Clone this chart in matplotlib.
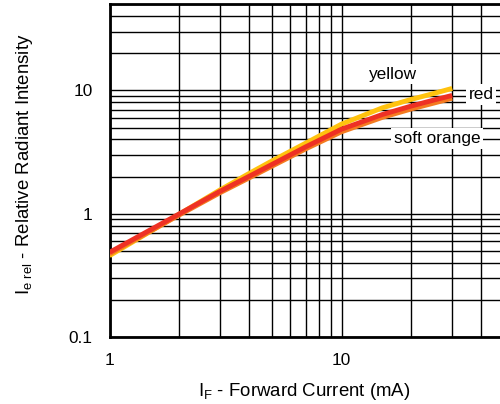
import matplotlib
matplotlib.use("Agg")
from matplotlib import pyplot as plt
from matplotlib.ticker import LogLocator, FixedLocator, NullFormatter

plt.rcParams['font.family'] = ['Liberation Sans', 'DejaVu Sans']

# forward current (mA) and relative radiant intensity per colour
current = [1, 1.5, 2, 3, 4, 5, 7, 10, 15, 20, 25, 30]
yellow = [0.455, 0.716, 0.99, 1.56, 2.12, 2.67, 3.73, 5.33, 7.23, 8.47, 9.46, 10.4]
red = [0.484, 0.738, 0.995, 1.52, 2.01, 2.50, 3.48, 4.85, 6.38, 7.48, 8.36, 9.12]
soft_orange = [0.47, 0.72, 0.975, 1.48, 1.95, 2.42, 3.35, 4.62, 6.05, 7.08, 7.9, 8.65]

x_ticks = [1, 10]
x_tick_labels = ["1", "10"]
y_ticks = [0.1, 1, 10]
y_tick_labels = ["0.1", "1", "10"]

fs = 12.4
label_fs = 13.4

fig = plt.figure(figsize=(5, 4.04), dpi=100)
ax = fig.add_axes([0.219, 0.1666, 0.928, 0.8224])

ax.set_xscale('log')
ax.set_yscale('log')
ax.set_xlim(1, 100)
ax.set_ylim(0.1, 50)

ax.plot(current, yellow, color='#FFC20E', lw=3.5, solid_capstyle='butt', zorder=3)
ax.plot(current, soft_orange, color='#F47B20', lw=3.5, solid_capstyle='butt', zorder=4)
ax.plot(current, red, color='#EE3124', lw=3.5, solid_capstyle='butt', zorder=5)

box = dict(facecolor='white', edgecolor='none', pad=2)
ax.text(16.7, 13.6, "yellow", ha='center', va='center', fontsize=fs, bbox=box, zorder=6)
ax.text(39.9, 9.25, "red", ha='center', va='center', fontsize=fs, bbox=box, zorder=6)
ax.text(25.8, 4.08, "soft orange", ha='center', va='center', fontsize=fs, bbox=box, zorder=6)

ax.xaxis.set_major_locator(FixedLocator(x_ticks))
ax.set_xticklabels(x_tick_labels)
ax.yaxis.set_major_locator(FixedLocator(y_ticks))
ax.set_yticklabels(y_tick_labels)
ax.xaxis.set_minor_locator(LogLocator(base=10, subs=range(2, 10)))
ax.yaxis.set_minor_locator(LogLocator(base=10, subs=range(2, 10)))
ax.xaxis.set_minor_formatter(NullFormatter())
ax.yaxis.set_minor_formatter(NullFormatter())

ax.grid(True, which='both', color='black', lw=1.0, zorder=1)
ax.set_axisbelow(True)
ax.tick_params(which='both', length=0, labelsize=fs)
ax.tick_params(axis='x', pad=12)
ax.tick_params(axis='y', pad=12)

for s in ax.spines.values():
    s.set_linewidth(2)

ax.set_xlabel("$\\mathregular{I_F}$ - Forward Current (mA)", fontsize=label_fs)
ax.set_ylabel("$\\mathregular{I_{e\\ rel}}$ - Relative Radiant Intensity", fontsize=label_fs)
ax.xaxis.set_label_coords(0.42, -0.132)
ax.yaxis.set_label_coords(-0.16, 0.52)

fig.savefig("out.png", dpi=100)
